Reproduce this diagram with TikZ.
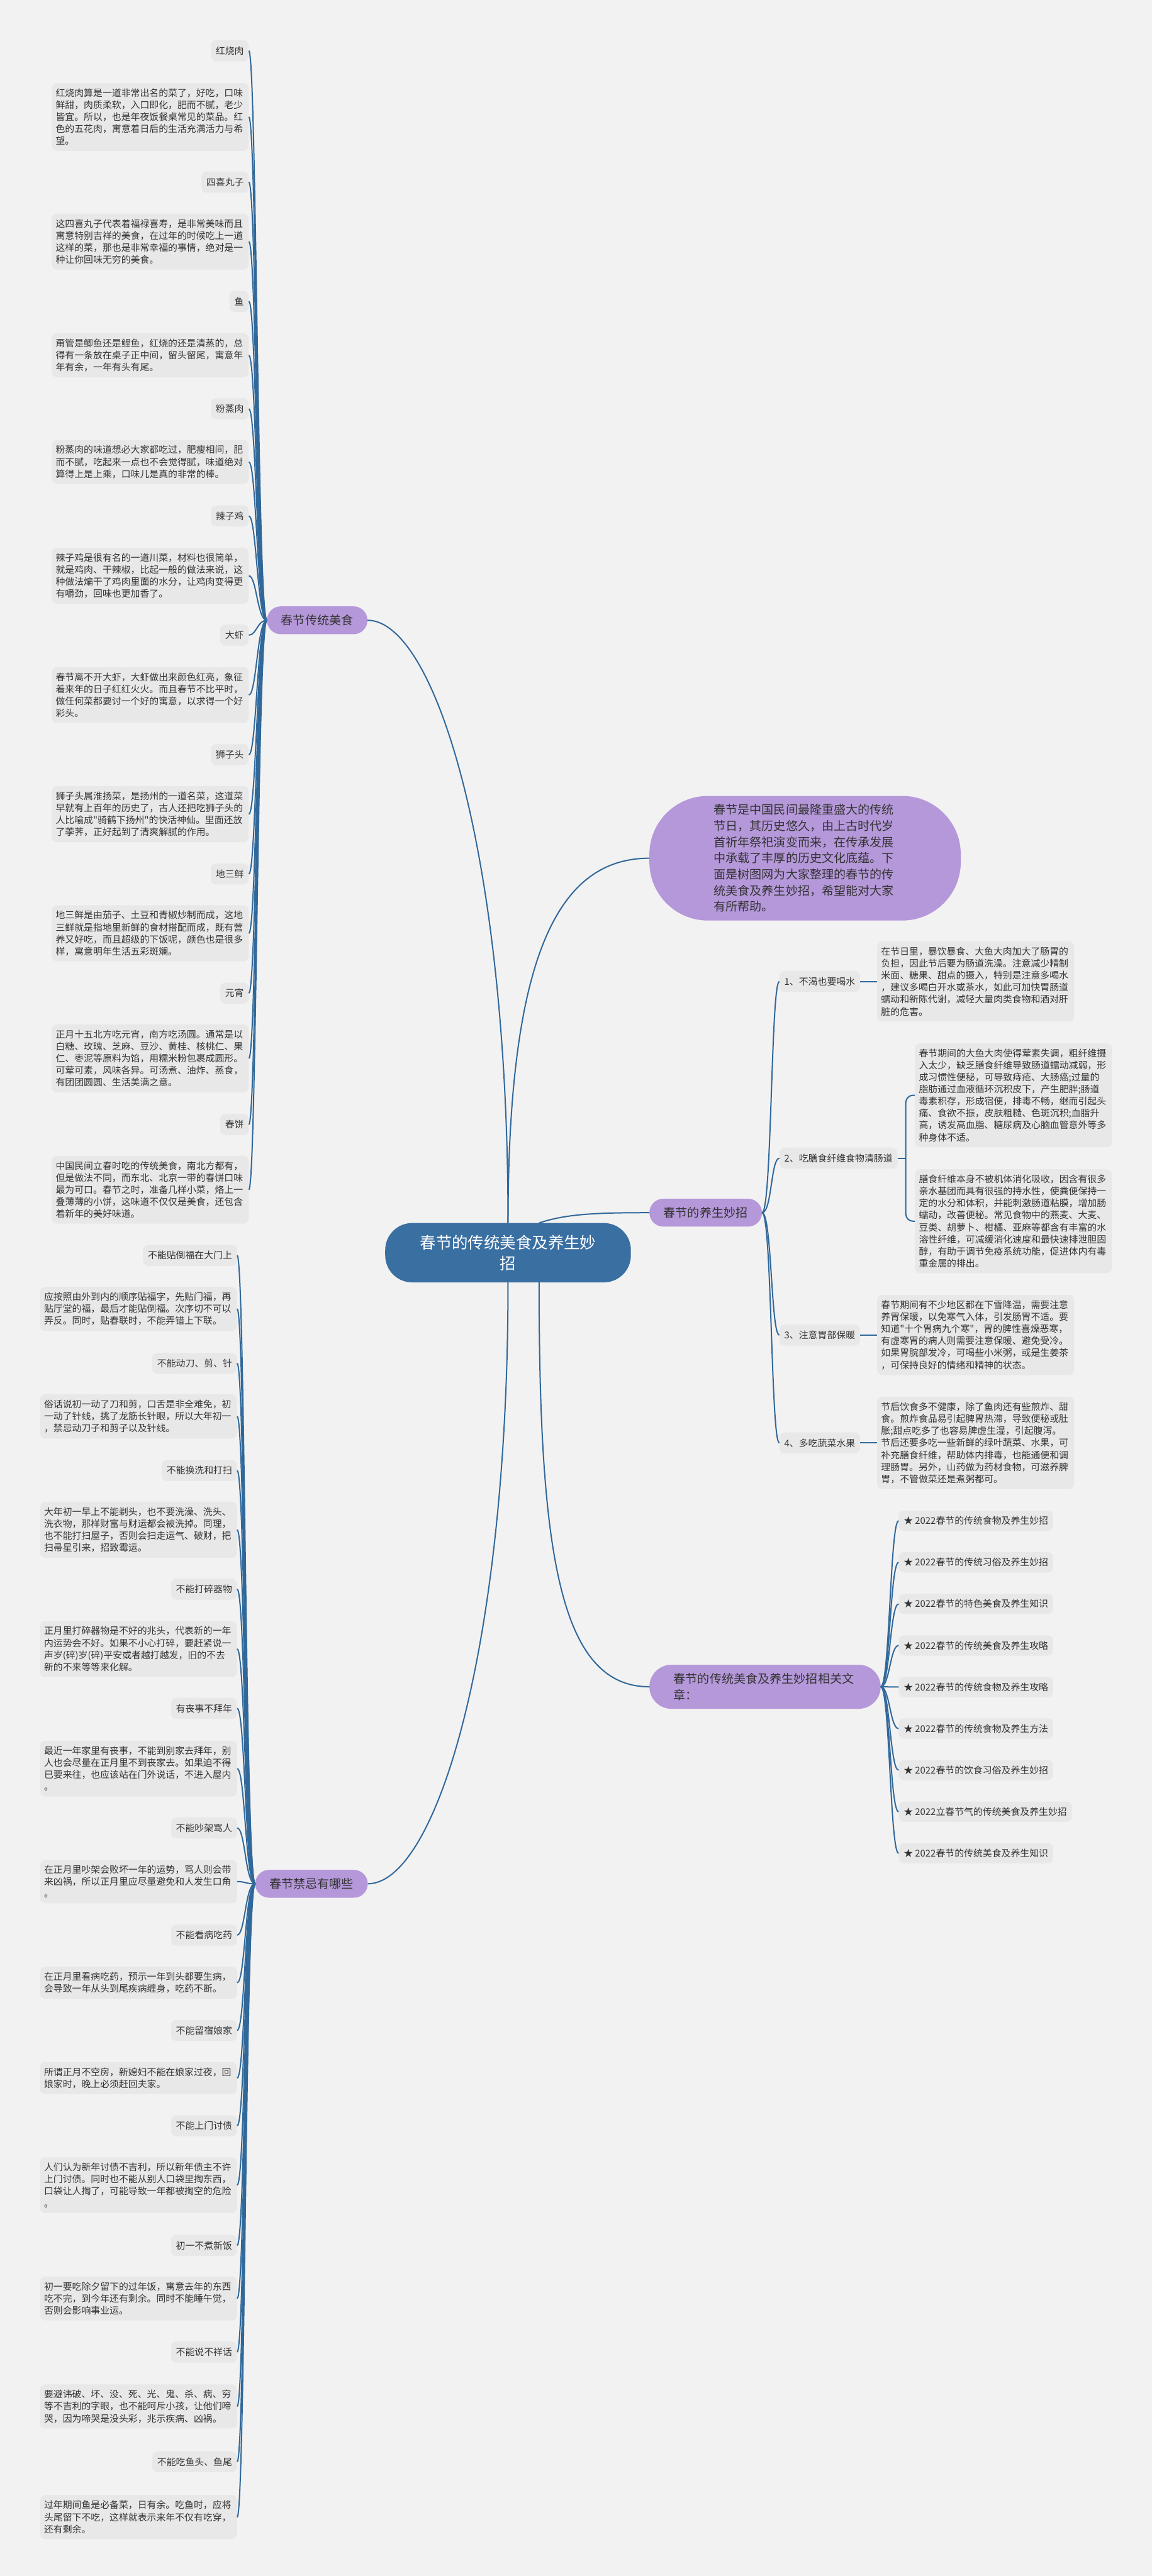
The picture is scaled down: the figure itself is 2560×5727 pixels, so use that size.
\documentclass[tikz,border=0pt]{standalone}
\usepackage{fontspec}
\newfontfamily\cjk{Noto Sans CJK SC}
\definecolor{bg}{HTML}{F2F2F2}
\definecolor{boxgray}{HTML}{E8E8E8}
\definecolor{ink}{HTML}{333333}
\definecolor{lilac}{HTML}{B598DA}
\definecolor{rootblue}{HTML}{3A6FA2}
\definecolor{linkblue}{HTML}{31689A}

\begin{document}
\begin{tikzpicture}[x=0.05cm,y=-0.05cm,
  every node/.style={text=ink},
  leaf/.style={fill=boxgray,rounded corners=0.6cm,text width=21cm,align=left,
    inner xsep=0.45cm,inner ysep=0.62cm,font={\cjk\fontsize{29.6pt}{38pt}\selectfont}},
  tag/.style={fill=boxgray,rounded corners=0.6cm,minimum height=2.35cm,
    inner xsep=0.55cm,font={\cjk\fontsize{29.6pt}{38pt}\selectfont}},
  topic/.style={fill=lilac,rounded corners=1.55cm,minimum height=3.1cm,
    inner xsep=1.58cm,font={\cjk\fontsize{38pt}{51pt}\selectfont}},
  link/.style={draw=linkblue,line width=0.14cm}]

  \fill[bg] (0,0) rectangle (2560,5727);

  % centre and main topics
  \node[fill=rootblue,text=white,rounded corners=3cm,minimum width=27.3cm,
    minimum height=6.6cm,text width=19.8cm,align=center,
    font={\cjk\fontsize{50.6pt}{66pt}\selectfont}] (root) at (1129,2785)
    {春节的传统美食及养生妙\\招};
  \node[topic,anchor=west] (food) at (593,1379) {春节传统美食};
  \node[topic,anchor=west] (taboo) at (567,4188) {春节禁忌有哪些};
  \node[topic,anchor=west] (health) at (1443,2696) {春节的养生妙招};
  \node[fill=lilac,rounded corners=2.45cm,minimum height=4.9cm,inner xsep=2.7cm,
    text width=20.3cm,align=left,font={\cjk\fontsize{38pt}{51pt}\selectfont},
    anchor=west] (rel) at (1443,3750) {春节的传统美食及养生妙招相关文\\章：};
  \node[fill=lilac,rounded corners=6.5cm,minimum width=34.6cm,minimum height=13.85cm,
    text width=20.3cm,align=left,font={\cjk\fontsize{38pt}{51pt}\selectfont},
    anchor=west] (intro) at (1443,1908)
    {春节是中国民间最隆重盛大的传统\\节日，其历史悠久，由上古时代岁\\首祈年祭祀演变而来，在传承发展\\中承载了丰厚的历史文化底蕴。下\\面是树图网为大家整理的春节的传\\统美食及养生妙招，希望能对大家\\有所帮助。};

  % traditional food
  \node[tag,anchor=east] (fa1) at (553,113) {红烧肉};
  \node[leaf,anchor=east] (fb1) at (553,260) {红烧肉算是一道非常出名的菜了，好吃，口味\\鲜甜，肉质柔软，入口即化，肥而不腻，老少\\皆宜。所以，也是年夜饭餐桌常见的菜品。红\\色的五花肉，寓意着日后的生活充满活力与希\\望。};
  \node[tag,anchor=east] (fa2) at (553,405) {四喜丸子};
  \node[leaf,anchor=east] (fb2) at (553,537) {这四喜丸子代表着福禄喜寿，是非常美味而且\\寓意特别吉祥的美食，在过年的时候吃上一道\\这样的菜，那也是非常幸福的事情，绝对是一\\种让你回味无穷的美食。};
  \node[tag,anchor=east] (fa3) at (553,670) {鱼};
  \node[leaf,anchor=east] (fb3) at (553,790) {甭管是鲫鱼还是鲤鱼，红烧的还是清蒸的，总\\得有一条放在桌子正中间，留头留尾，寓意年\\年有余，一年有头有尾。};
  \node[tag,anchor=east] (fa4) at (553,909) {粉蒸肉};
  \node[leaf,anchor=east] (fb4) at (553,1027) {粉蒸肉的味道想必大家都吃过，肥瘦相间，肥\\而不腻，吃起来一点也不会觉得腻，味道绝对\\算得上是上乘，口味儿是真的非常的棒。};
  \node[tag,anchor=east] (fa5) at (553,1147) {辣子鸡};
  \node[leaf,anchor=east] (fb5) at (553,1280) {辣子鸡是很有名的一道川菜，材料也很简单，\\就是鸡肉、干辣椒，比起一般的做法来说，这\\种做法煸干了鸡肉里面的水分，让鸡肉变得更\\有嚼劲，回味也更加香了。};
  \node[tag,anchor=east] (fa6) at (553,1412) {大虾};
  \node[leaf,anchor=east] (fb6) at (553,1545) {春节离不开大虾，大虾做出来颜色红亮，象征\\着来年的日子红红火火。而且春节不比平时，\\做任何菜都要讨一个好的寓意，以求得一个好\\彩头。};
  \node[tag,anchor=east] (fa7) at (553,1678) {狮子头};
  \node[leaf,anchor=east] (fb7) at (553,1810) {狮子头属淮扬菜，是扬州的一道名菜，这道菜\\早就有上百年的历史了，古人还把吃狮子头的\\人比喻成"骑鹤下扬州"的快活神仙。里面还放\\了荸荠，正好起到了清爽解腻的作用。};
  \node[tag,anchor=east] (fa8) at (553,1943) {地三鲜};
  \node[leaf,anchor=east] (fb8) at (553,2075) {地三鲜是由茄子、土豆和青椒炒制而成，这地\\三鲜就是指地里新鲜的食材搭配而成，既有营\\养又好吃，而且超级的下饭呢，颜色也是很多\\样，寓意明年生活五彩斑斓。};
  \node[tag,anchor=east] (fa9) at (553,2208) {元宵};
  \node[leaf,anchor=east] (fb9) at (553,2353) {正月十五北方吃元宵，南方吃汤圆。通常是以\\白糖、玫瑰、芝麻、豆沙、黄桂、核桃仁、果\\仁、枣泥等原料为馅，用糯米粉包裹成圆形。\\可荤可素，风味各异。可汤煮、油炸、蒸食，\\有团团圆圆、生活美满之意。};
  \node[tag,anchor=east] (fa10) at (553,2500) {春饼};
  \node[leaf,anchor=east] (fb10) at (553,2645) {中国民间立春时吃的传统美食，南北方都有，\\但是做法不同，而东北、北京一带的春饼口味\\最为可口。春节之时，准备几样小菜，烙上一\\叠薄薄的小饼，这味道不仅仅是美食，还包含\\着新年的美好味道。};

  % taboos
  \node[tag,anchor=east] (ja1) at (527,2791) {不能贴倒福在大门上};
  \node[leaf,anchor=east] (jb1) at (527,2910) {应按照由外到内的顺序贴福字，先贴门福，再\\贴厅堂的福，最后才能贴倒福。次序切不可以\\弄反。同时，贴春联时，不能弄错上下联。};
  \node[tag,anchor=east] (ja2) at (527,3031) {不能动刀、剪、针};
  \node[leaf,anchor=east] (jb2) at (527,3149) {俗话说初一动了刀和剪，口舌是非全难免，初\\一动了针线，挑了龙筋长针眼，所以大年初一\\，禁忌动刀子和剪子以及针线。};
  \node[tag,anchor=east] (ja3) at (527,3269) {不能换洗和打扫};
  \node[leaf,anchor=east] (jb3) at (527,3401) {大年初一早上不能剃头，也不要洗澡、洗头、\\洗衣物，那样财富与财运都会被洗掉。同理，\\也不能打扫屋子，否则会扫走运气、破财，把\\扫帚星引来，招致霉运。};
  \node[tag,anchor=east] (ja4) at (527,3533) {不能打碎器物};
  \node[leaf,anchor=east] (jb4) at (527,3666) {正月里打碎器物是不好的兆头，代表新的一年\\内运势会不好。如果不小心打碎，要赶紧说一\\声岁(碎)岁(碎)平安或者越打越发，旧的不去\\新的不来等等来化解。};
  \node[tag,anchor=east] (ja5) at (527,3798) {有丧事不拜年};
  \node[leaf,anchor=east] (jb5) at (527,3932) {最近一年家里有丧事，不能到别家去拜年，别\\人也会尽量在正月里不到丧家去。如果迫不得\\已要来往，也应该站在门外说话，不进入屋内\\。};
  \node[tag,anchor=east] (ja6) at (527,4064) {不能吵架骂人};
  \node[leaf,anchor=east] (jb6) at (527,4183) {在正月里吵架会败坏一年的运势，骂人则会带\\来凶祸，所以正月里应尽量避免和人发生口角\\。};
  \node[tag,anchor=east] (ja7) at (527,4302) {不能看病吃药};
  \node[leaf,anchor=east] (jb7) at (527,4408) {在正月里看病吃药，预示一年到头都要生病，\\会导致一年从头到尾疾病缠身，吃药不断。};
  \node[tag,anchor=east] (ja8) at (527,4514) {不能留宿娘家};
  \node[leaf,anchor=east] (jb8) at (527,4620) {所谓正月不空房，新媳妇不能在娘家过夜，回\\娘家时，晚上必须赶回夫家。};
  \node[tag,anchor=east] (ja9) at (527,4726) {不能上门讨债};
  \node[leaf,anchor=east] (jb9) at (527,4858) {人们认为新年讨债不吉利，所以新年债主不许\\上门讨债。同时也不能从别人口袋里掏东西，\\口袋让人掏了，可能导致一年都被掏空的危险\\。};
  \node[tag,anchor=east] (ja10) at (527,4992) {初一不煮新饭};
  \node[leaf,anchor=east] (jb10) at (527,5110) {初一要吃除夕留下的过年饭，寓意去年的东西\\吃不完，到今年还有剩余。同时不能睡午觉，\\否则会影响事业运。};
  \node[tag,anchor=east] (ja11) at (527,5229) {不能说不祥话};
  \node[leaf,anchor=east] (jb11) at (527,5350) {要避讳破、坏、没、死、光、鬼、杀、病、穷\\等不吉利的字眼，也不能呵斥小孩，让他们啼\\哭，因为啼哭是没头彩，兆示疾病、凶祸。};
  \node[tag,anchor=east] (ja12) at (527,5473) {不能吃鱼头、鱼尾};
  \node[leaf,anchor=east] (jb12) at (527,5596) {过年期间鱼是必备菜，日有余。吃鱼时，应将\\头尾留下不吃，这样就表示来年不仅有吃穿，\\还有剩余。};

  % health tips
  \node[tag,anchor=west] (ya1) at (1732,2182) {1、不渴也要喝水};
  \node[leaf,anchor=west] (yb1) at (1949,2182) {在节日里，暴饮暴食、大鱼大肉加大了肠胃的\\负担，因此节后要为肠道洗澡。注意减少精制\\米面、糖果、甜点的摄入，特别是注意多喝水\\，建议多喝白开水或茶水，如此可加快胃肠道\\蠕动和新陈代谢，减轻大量肉类食物和酒对肝\\脏的危害。};
  \node[tag,anchor=west] (ya2) at (1732,2575) {2、吃膳食纤维食物清肠道};
  \node[leaf,anchor=west] (yb2a) at (2033,2435) {春节期间的大鱼大肉使得荤素失调，粗纤维摄\\入太少，缺乏膳食纤维导致肠道蠕动减弱，形\\成习惯性便秘，可导致痔疮、大肠癌;过量的\\脂肪通过血液循环沉积皮下，产生肥胖;肠道\\毒素积存，形成宿便，排毒不畅，继而引起头\\痛、食欲不振，皮肤粗糙、色斑沉积;血脂升\\高，诱发高血脂、糖尿病及心脑血管意外等多\\种身体不适。};
  \node[leaf,anchor=west] (yb2b) at (2033,2715) {膳食纤维本身不被机体消化吸收，因含有很多\\亲水基团而具有很强的持水性，使粪便保持一\\定的水分和体积，并能刺激肠道粘膜，增加肠\\蠕动，改善便秘。常见食物中的燕麦、大麦、\\豆类、胡萝卜、柑橘、亚麻等都含有丰富的水\\溶性纤维，可减缓消化速度和最快速排泄胆固\\醇，有助于调节免疫系统功能，促进体内有毒\\重金属的排出。};
  \node[tag,anchor=west] (ya3) at (1732,2968) {3、注意胃部保暖};
  \node[leaf,anchor=west] (yb3) at (1949,2968) {春节期间有不少地区都在下雪降温，需要注意\\养胃保暖，以免寒气入体，引发肠胃不适。要\\知道"十个胃病九个寒"，胃的脾性喜燥恶寒，\\有虚寒胃的病人则需要注意保暖、避免受冷。\\如果胃脘部发冷，可喝些小米粥，或是生姜茶\\，可保持良好的情绪和精神的状态。};
  \node[tag,anchor=west] (ya4) at (1732,3208) {4、多吃蔬菜水果};
  \node[leaf,anchor=west] (yb4) at (1949,3208) {节后饮食多不健康，除了鱼肉还有些煎炸、甜\\食。煎炸食品易引起脾胃热滞，导致便秘或肚\\胀;甜点吃多了也容易脾虚生湿，引起腹泻。\\节后还要多吃一些新鲜的绿叶蔬菜、水果，可\\补充膳食纤维，帮助体内排毒，也能通便和调\\理肠胃。另外，山药做为药材食物，可滋养脾\\胃，不管做菜还是煮粥都可。};

  % related articles
  \foreach \t [count=\i] in {★ 2022春节的传统食物及养生妙招,★ 2022春节的传统习俗及养生妙招,
      ★ 2022春节的特色美食及养生知识,★ 2022春节的传统美食及养生攻略,
      ★ 2022春节的传统食物及养生攻略,★ 2022春节的传统食物及养生方法,
      ★ 2022春节的饮食习俗及养生妙招,★ 2022立春节气的传统美食及养生妙招,
      ★ 2022春节的传统美食及养生知识}
    \node[tag,minimum height=2.25cm,anchor=west] (art\i) at (1997,{3381+92.4*(\i-1)}) {\t};

  % connectors
  \draw[link] (root.north) .. controls +(0,-820) and +(150,0) .. (food.east);
  \draw[link] (root.north) .. controls +(0,-600) and +(-200,0) .. (intro.west);
  \draw[link] ([xshift=3.45cm]root.north) .. controls +(60,-20) and +(-120,0) .. (health.west);
  \draw[link] (root.south) .. controls +(0,820) and +(150,0) .. (taboo.east);
  \draw[link] ([xshift=3.45cm]root.south) .. controls +(0,600) and +(-200,0) .. (rel.west);

  \foreach \i in {1,...,10} {
    \draw[link] (food.west) .. controls +(-21,0) and +(17,0) .. (fa\i.east);
    \draw[link] (food.west) .. controls +(-21,0) and +(17,0) .. (fb\i.east);
  }
  \foreach \i in {1,...,12} {
    \draw[link] (taboo.west) .. controls +(-22,0) and +(18,0) .. (ja\i.east);
    \draw[link] (taboo.west) .. controls +(-22,0) and +(18,0) .. (jb\i.east);
  }
  \foreach \i in {1,...,4}
    \draw[link] (health.east) .. controls +(22,0) and +(-19,0) .. (ya\i.west);
  \foreach \i in {1,3,4}
    \draw[link] (ya\i.east) -- (yb\i.west);
  \coordinate (knee) at (2013,2575);
  \draw[link] (ya2.east) -- (knee);
  \draw[link,rounded corners=0.8cm] (yb2a.west) -| (knee) |- (yb2b.west);
  \foreach \i in {1,...,9}
    \draw[link] (rel.east) .. controls +(20,0) and +(-19,0) .. (art\i.west);
\end{tikzpicture}
\end{document}
